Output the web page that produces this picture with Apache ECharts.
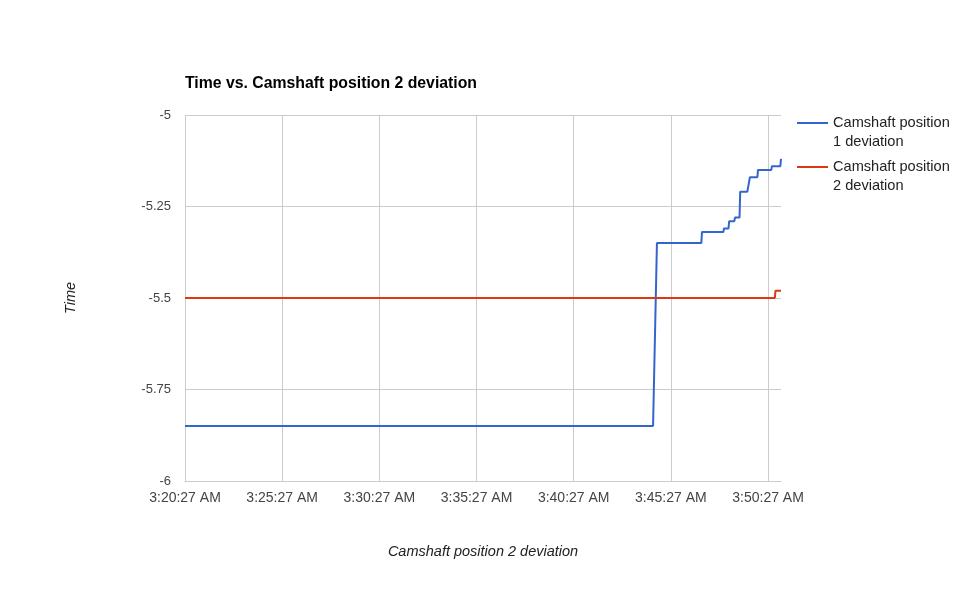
<!DOCTYPE html>
<html><head><meta charset="utf-8">
<script src="https://cdn.jsdelivr.net/npm/echarts@6/dist/echarts.min.js"></script>
<style>html,body{margin:0;padding:0;background:#fff}#c{width:966px;height:597px}</style>
</head><body><div id="c"></div>
<script>
const startTime = '3:20:27';
const endTime = '3:51:07';
const xTickStepSeconds = 300;
const yTicks = [-6, -5.75, -5.5, -5.25, -5];
const seriesNames = ['Camshaft position\n1 deviation', 'Camshaft position\n2 deviation'];
const cam1Times = ['3:20:27','3:44:32','3:44:44','3:47:01','3:47:03','3:48:09','3:48:11','3:48:25','3:48:27','3:48:43','3:48:45','3:48:59','3:49:01','3:49:23','3:49:25','3:49:29','3:49:31','3:49:54','3:49:56','3:50:37','3:50:39','3:51:05','3:51:07'];
const cam1Values = [-5.85,-5.85,-5.35,-5.35,-5.32,-5.32,-5.31,-5.31,-5.29,-5.29,-5.28,-5.28,-5.21,-5.21,-5.2,-5.2,-5.17,-5.17,-5.15,-5.15,-5.14,-5.14,-5.12];
const cam2Times = ['3:20:27','3:50:48','3:50:50','3:51:07'];
const cam2Values = [-5.5,-5.5,-5.48,-5.48];

function toSec(t){const p=t.split(':').map(Number);return p[0]*3600+p[1]*60+p[2];}
const t0 = toSec(startTime);
function fmt(s){
  let tot = t0 + s; let h = Math.floor(tot/3600); let m = Math.floor((tot%3600)/60); let sec = Math.round(tot%60);
  const ap = h>=12?'PM':'AM'; let hh = h%12; if(hh===0) hh=12;
  return hh+':'+String(m).padStart(2,'0')+':'+String(sec).padStart(2,'0')+' '+ap;
}
function pts(ts, vs){return ts.map((t,i)=>[toSec(t)-t0, vs[i]]);}

const chart = echarts.init(document.getElementById('c'));
const font = 'Arial, "Liberation Sans", sans-serif';
chart.setOption({
  animation:false,
  textStyle:{fontFamily:font},
  title:{text:'Time vs. Camshaft position 2 deviation',left:185,top:76,padding:0,textStyle:{fontFamily:font,fontSize:15.8,fontWeight:'bold',color:'#000'}},
  legend:{orient:'vertical',left:797,top:113,padding:0,itemWidth:31,itemHeight:20,itemGap:6,
    textStyle:{fontFamily:font,fontSize:14.6,color:'#222',lineHeight:19},
    icon:'path://M0,0L31,0L31,2L0,2ZM0,20L0,20Z'},
  grid:{left:185,right:185,top:115,bottom:116},
  xAxis:{type:'value',min:0,max:toSec(endTime)-t0,interval:xTickStepSeconds,
    name:'Camshaft position 2 deviation',nameLocation:'middle',nameGap:63,
    nameTextStyle:{fontFamily:font,fontSize:14.5,fontStyle:'italic',color:'#222'},
    axisLine:{show:true,lineStyle:{color:'#ccc'}},axisTick:{show:false},
    axisLabel:{fontFamily:font,fontSize:14,color:'#444',margin:10,showMaxLabel:false,formatter:v=>fmt(v)},
    splitLine:{show:true,showMaxLine:false,lineStyle:{color:'#ccc'}}},
  yAxis:{type:'value',min:yTicks[0],max:yTicks[yTicks.length-1],interval:0.25,
    name:'Time',nameLocation:'middle',nameGap:107,
    nameTextStyle:{fontFamily:font,fontSize:14.5,fontStyle:'italic',color:'#222'},
    axisLine:{show:false},axisTick:{show:false},
    axisLabel:{fontFamily:font,fontSize:13,color:'#444',margin:14},
    splitLine:{show:true,lineStyle:{color:'#ccc'}}},
  series:[
    {name:seriesNames[0],type:'line',data:pts(cam1Times,cam1Values),showSymbol:false,symbol:'none',lineStyle:{color:'#3366cc',width:2},itemStyle:{color:'#3366cc'}},
    {name:seriesNames[1],type:'line',data:pts(cam2Times,cam2Values),showSymbol:false,symbol:'none',lineStyle:{color:'#dc3912',width:2},itemStyle:{color:'#dc3912'}}
  ]
});
</script></body></html>
